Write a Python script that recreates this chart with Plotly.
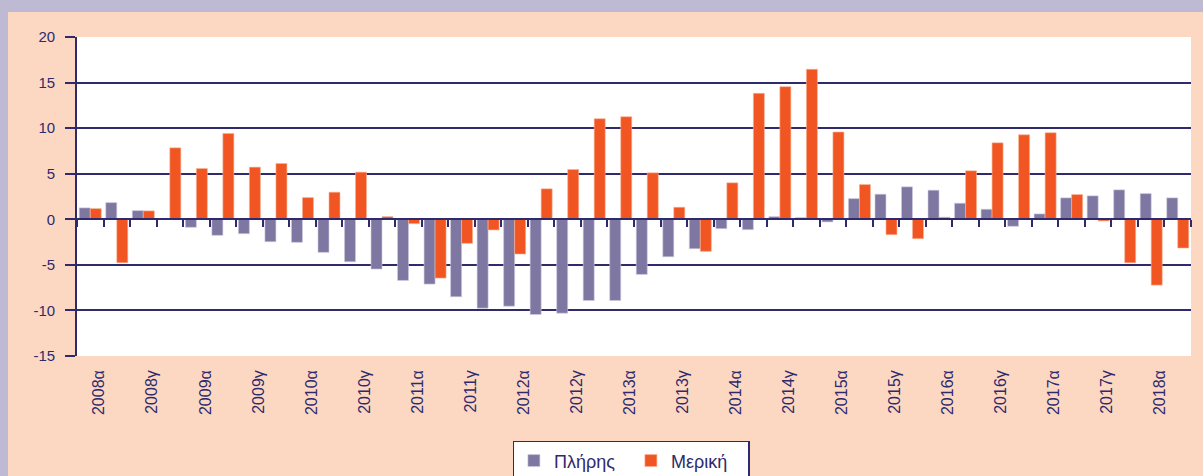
import plotly.graph_objects as go

categories = [
    "2008α", "2008β", "2008γ", "2008δ",
    "2009α", "2009β", "2009γ", "2009δ",
    "2010α", "2010β", "2010γ", "2010δ",
    "2011α", "2011β", "2011γ", "2011δ",
    "2012α", "2012β", "2012γ", "2012δ",
    "2013α", "2013β", "2013γ", "2013δ",
    "2014α", "2014β", "2014γ", "2014δ",
    "2015α", "2015β", "2015γ", "2015δ",
    "2016α", "2016β", "2016γ", "2016δ",
    "2017α", "2017β", "2017γ", "2017δ",
    "2018α", "2018β",
]

pliris = [
    1.25, 1.83, 0.95, 0.0,
    -0.88, -1.76, -1.58, -2.46,
    -2.53, -3.63, -4.66, -5.46,
    -6.71, -7.11, -8.50, -9.75,
    -9.53, -10.45, -10.30, -8.91,
    -8.91, -6.05, -4.11, -3.23,
    -1.03, -1.14, 0.29, 0.18,
    -0.29, 2.27, 2.75, 3.56,
    3.19, 1.76, 1.10, -0.77,
    0.59, 2.35, 2.57, 3.23,
    2.82, 2.35,
]

meriki = [
    1.17, -4.77, 0.92, 7.84,
    5.57, 9.42, 5.72, 6.12,
    2.38, 2.97, 5.17, 0.29,
    -0.48, -6.45, -2.64, -1.17,
    -3.81, 3.34, 5.46, 11.03,
    11.25, 5.10, 1.32, -3.52,
    4.00, 13.82, 14.55, 16.46,
    9.57, 3.81, -1.69, -2.13,
    0.22, 5.32, 8.39, 9.27,
    9.49, 2.71, -0.18, -4.77,
    -7.22, -3.15,
]

x_tick_labels = categories[::2]

y_tick_vals = [-15, -10, -5, 0, 5, 10, 15, 20]
y_tick_text = ["-15", "-10", "-5", "0", "5", "10", "15", "20"]

series_names = ["Πλήρης", "Μερική"]

Y_MIN, Y_MAX = -15, 20

W, H = 1203, 476
ML, MR, MT, MB = 77, 12, 37, 120
PW, PH = W - ML - MR, H - MT - MB

NAVY = "#2e2a6b"
PEACH = "#fcd8c3"
LAVENDER = "#bfbad3"
GRAY = "#7e77a1"
RED = "#f15622"
FONT = "Liberation Sans, Arial, sans-serif"


def px_to_paper_x(p):
    return (p - ML) / PW


def px_to_paper_y(p):
    return (H - MB - p) / PH


fig = go.Figure()
fig.add_trace(go.Bar(
    x=categories, y=pliris, name=series_names[0],
    marker=dict(color=GRAY, line=dict(color="#cfcbe0", width=0.6)),
))
fig.add_trace(go.Bar(
    x=categories, y=meriki, name=series_names[1],
    marker=dict(color=RED, line=dict(color="#f7b196", width=0.6)),
))

n = len(categories)
zero_pos = (0 - Y_MIN) / (Y_MAX - Y_MIN)

fig.update_layout(
    width=W, height=H,
    margin=dict(l=ML, r=MR, t=MT, b=MB, autoexpand=False),
    paper_bgcolor=PEACH,
    plot_bgcolor="white",
    barmode="group",
    bargap=0.17,
    bargroupgap=0.0,
    font=dict(family=FONT, color=NAVY, size=15),
    showlegend=True,
    legend=dict(
        orientation="h",
        x=px_to_paper_x(631), xanchor="center",
        y=px_to_paper_y(441), yanchor="top",
        bgcolor="white",
        bordercolor=NAVY, borderwidth=1.4,
        font=dict(family=FONT, size=18, color=NAVY),
        traceorder="normal",
        entrywidth=72,
        entrywidthmode="pixels",
    ),
    xaxis=dict(
        type="category",
        categoryorder="array", categoryarray=categories,
        range=[-0.5, n - 0.5],
        tickmode="array", tickvals=x_tick_labels, ticktext=x_tick_labels,
        tickangle=-90,
        ticks="",
        ticklabelstandoff=10,
        ticklabelshift=9,
        showgrid=False, showline=False, zeroline=False,
        tickfont=dict(family=FONT, size=16, color=NAVY),
        automargin=False,
        fixedrange=True,
    ),
    xaxis2=dict(
        overlaying="x",
        anchor="free",
        position=zero_pos,
        side="bottom",
        range=[-0.5, n - 0.5],
        tickmode="linear", tick0=-0.5, dtick=1,
        ticks="outside", ticklen=7, tickwidth=1.5, tickcolor=NAVY,
        showticklabels=False,
        showgrid=False, zeroline=False,
        showline=True, linecolor=NAVY, linewidth=1.8,
        automargin=False,
        fixedrange=True,
    ),
    yaxis=dict(
        range=[Y_MIN, Y_MAX],
        tickmode="array", tickvals=y_tick_vals, ticktext=y_tick_text,
        showgrid=True, gridcolor=NAVY, gridwidth=1.6,
        zeroline=True, zerolinecolor=NAVY, zerolinewidth=1.8,
        showline=True, linecolor=NAVY, linewidth=1.8,
        ticks="outside", ticklen=10, tickwidth=1.5, tickcolor=NAVY,
        ticklabelstandoff=7,
        tickfont=dict(family=FONT, size=15, color=NAVY),
        automargin=False,
        fixedrange=True,
    ),
    shapes=[
        dict(type="rect", xref="paper", yref="paper", layer="below",
             x0=px_to_paper_x(0), x1=px_to_paper_x(W),
             y0=px_to_paper_y(12), y1=px_to_paper_y(0),
             fillcolor=LAVENDER, line=dict(width=0)),
        dict(type="rect", xref="paper", yref="paper", layer="below",
             x0=px_to_paper_x(0), x1=px_to_paper_x(8),
             y0=px_to_paper_y(H), y1=px_to_paper_y(0),
             fillcolor=LAVENDER, line=dict(width=0)),
    ],
)

# A hidden trace on xaxis2 so that the overlay axis is rendered
fig.add_trace(go.Scatter(
    x=[0], y=[None], xaxis="x2", showlegend=False, hoverinfo="skip",
    mode="markers", marker=dict(opacity=0),
))

fig.write_html(
    "out.html",
    config={"displayModeBar": False},
    post_script="document.body.style.margin='0';document.body.style.overflow='hidden';",
)
